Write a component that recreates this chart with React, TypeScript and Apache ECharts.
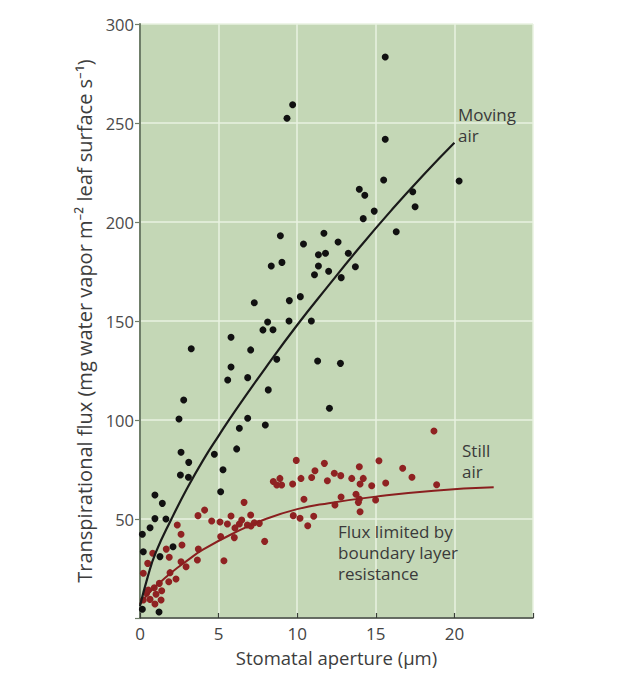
import React, { useEffect, useRef } from "react";
import * as echarts from "echarts";

// Stomatal aperture (µm), transpirational flux values
const movingAirPoints: number[][] = [
  [9.71, 259.2], [9.35, 252.4], [15.6, 283.3], [15.6, 241.8], [15.5, 221.2], [20.3, 220.7],
  [13.95, 216.5], [14.3, 213.5], [17.35, 215.3], [17.5, 207.7], [14.9, 205.5], [14.2, 201.7],
  [16.3, 195.1], [11.7, 194.3], [10.4, 188.9], [12.6, 189.9], [11.35, 183.5], [11.8, 184.2],
  [13.25, 184.2], [11.35, 177.8], [13.7, 177.4], [11.1, 173.4], [12.0, 175.1], [12.8, 171.9],
  [10.2, 162.3], [10.9, 150], [11.3, 129.8], [12.75, 128.6], [12.05, 105.9],
  [8.93, 193.1], [8.35, 177.8], [9.03, 179.6], [7.27, 159.2], [9.5, 160.3], [9.48, 150],
  [8.12, 149.5], [7.82, 145.5], [8.46, 145.6], [5.79, 141.8], [3.26, 136], [7.04, 135.4],
  [8.7, 130.7], [5.79, 126.8], [5.58, 120.2], [6.85, 121.4], [8.16, 115.2], [2.78, 110.1],
  [2.48, 100.5], [6.85, 100.9], [6.32, 95.8], [7.97, 97.5], [6.15, 85.4], [2.61, 83.7],
  [4.73, 82.7], [3.1, 78.6], [5.28, 74.9], [2.57, 72.2], [3.08, 71.1], [5.13, 63.8],
  [0.95, 62.1], [1.42, 57.9], [0.95, 50.2], [1.65, 50], [0.64, 45.6], [0.15, 42.3],
  [2.1, 36], [0.21, 33.5], [1.27, 31], [0.15, 4.4], [1.21, 3],
];

const stillAirPoints: number[][] = [
  [9.94, 79.6], [11.13, 74.4], [10.24, 70.5], [10.92, 71.0], [8.9, 70.5], [8.48, 68.9],
  [8.7, 67.2], [9.01, 67.2], [9.71, 67.7], [10.43, 60], [6.62, 58.4], [4.11, 54.5],
  [3.69, 51.7], [7.04, 52], [5.79, 51.5], [4.56, 49], [5.09, 48.5], [5.56, 47.5],
  [6.04, 45.5], [6.47, 49.5], [6.32, 47.5], [6.83, 47], [7.27, 48.1], [7.59, 47.8],
  [7.06, 46.5], [9.75, 51.7], [10.18, 50.4], [11.05, 51.4], [10.67, 46.6], [2.37, 47],
  [2.61, 42.3], [2.67, 36.9], [5.13, 41.1], [6.0, 40.6], [7.93, 38.7], [3.71, 34.8],
  [0.81, 32.7], [1.67, 34.8], [1.86, 30.7], [2.61, 28.4], [2.93, 25.9], [3.65, 29.3],
  [5.34, 28.9], [0.49, 27.6], [0.21, 22.6], [1.91, 22.9], [1.83, 18.3], [2.29, 19.7],
  [1.23, 17.5], [0.91, 15.3], [1.38, 13.8], [0.42, 12.5], [1.02, 12], [0.64, 9.4],
  [1.34, 9.1], [0.95, 7.1], [0.21, 9.1], [0.53, 14.1],
  [18.7, 94.4], [11.73, 78.1], [15.2, 79.4], [13.95, 76.4], [12.36, 73.1], [12.77, 71.9],
  [11.92, 69.3], [13.47, 70.5], [14.2, 70.5], [14.0, 67.7], [14.74, 66.8], [15.63, 68.2],
  [16.71, 75.6], [17.3, 71.1], [18.87, 67.3], [12.79, 61.1], [12.4, 57.1], [13.74, 62.5],
  [13.95, 60.1], [13.89, 58.4], [14.99, 59.6], [14.0, 53.7],
];

const movingAirCurve: number[][] = [
  [0, 6], [0.5, 21], [1, 33], [2, 50], [3, 65.5], [4, 79.5], [5, 92], [6, 104], [8, 126.5],
  [10, 148], [12, 168], [14, 187.5], [16, 206], [18, 223.5], [20, 240],
];

const stillAirCurve: number[][] = [
  [0, 7], [0.5, 12], [1, 16], [2, 23], [3, 29], [4, 34.5], [6, 43], [8, 50], [10, 55],
  [12, 58], [15, 61.3], [18.7, 64.3], [22.5, 66],
];

const xTicks = [0, 5, 10, 15, 20, 25];
const yTicks = [0, 50, 100, 150, 200, 250, 300];

const FONT = "'Open Sans', 'Noto Sans', sans-serif";

export default function App() {
  const ref = useRef<HTMLDivElement>(null);
  useEffect(() => {
    if (!ref.current) return;
    const chart = echarts.init(ref.current, undefined, { renderer: "svg" });
    chart.setOption({
      animation: false,
      textStyle: { fontFamily: FONT },
      grid: {
        left: 140,
        top: 24,
        width: 393,
        height: 594,
        show: true,
        backgroundColor: "#c4d7b6",
        borderWidth: 0,
      },
      xAxis: {
        type: "value",
        min: xTicks[0],
        max: xTicks[xTicks.length - 1],
        interval: 5,
        name: "Stomatal aperture (µm)",
        nameLocation: "middle",
        nameGap: 30,
        nameTextStyle: { fontSize: 18.5, color: "#3d3d3d", fontFamily: FONT },
        axisLine: { show: true, onZero: false, lineStyle: { color: "#3a3f38", width: 1.5 } },
        axisTick: { show: true, inside: true, length: 5, lineStyle: { color: "#3a3f38", width: 1.2 } },
        axisLabel: {
          color: "#444",
          fontSize: 17,
          margin: 7,
          fontFamily: FONT,
          formatter: (v: number) => (v === 25 ? "" : String(v)),
        },
        splitLine: { show: true, lineStyle: { color: "#e9f2e1", width: 1.5 } },
      },
      yAxis: {
        type: "value",
        min: yTicks[0],
        max: yTicks[yTicks.length - 1],
        interval: 50,
        name: "Transpirational flux (mg water vapor m⁻² leaf surface s⁻¹)",
        nameLocation: "middle",
        nameRotate: 90,
        nameGap: 45,
        nameTextStyle: { fontSize: 20, color: "#3d3d3d", fontFamily: FONT },
        axisLine: { show: true, onZero: false, lineStyle: { color: "#6f7e69", width: 2 } },
        axisTick: { show: true, inside: false, length: 5, lineStyle: { color: "#6f7e69", width: 1.2 } },
        axisLabel: {
          color: "#4a4a4a",
          fontSize: 16.5,
          margin: 6,
          fontFamily: FONT,
          formatter: (v: number) => (v === 0 ? "" : String(v)),
        },
        splitLine: { show: true, lineStyle: { color: "#e9f2e1", width: 1.5 } },
      },
      series: [
        {
          type: "scatter",
          data: stillAirPoints,
          symbolSize: 7,
          itemStyle: { color: "#8f2222", opacity: 1 },
          z: 2,
        },
        {
          type: "scatter",
          data: movingAirPoints,
          symbolSize: 7,
          itemStyle: { color: "#111111", opacity: 1 },
          z: 3,
        },
        {
          type: "line",
          data: stillAirCurve,
          smooth: true,
          showSymbol: false,
          lineStyle: { color: "#8a1f1f", width: 2 },
          z: 4,
        },
        {
          type: "line",
          data: movingAirCurve,
          smooth: true,
          showSymbol: false,
          lineStyle: { color: "#1a1a1a", width: 2.2 },
          z: 5,
        },
      ],
      graphic: [
        {
          type: "text",
          left: 458,
          top: 104,
          z: 100,
          style: {
            text: "Moving\nair",
            fontSize: 17,
            lineHeight: 21,
            fill: "#3a3a3a",
            fontFamily: FONT,
          },
        },
        {
          type: "text",
          left: 462,
          top: 440,
          z: 100,
          style: {
            text: "Still\nair",
            fontSize: 17,
            lineHeight: 21,
            fill: "#3a3a3a",
            fontFamily: FONT,
          },
        },
        {
          type: "text",
          left: 338,
          top: 521,
          z: 100,
          style: {
            text: "Flux limited by\nboundary layer\nresistance",
            fontSize: 17,
            lineHeight: 21,
            fill: "#3a3a3a",
            fontFamily: FONT,
          },
        },
      ],
    });
    return () => chart.dispose();
  }, []);
  return (
    <div
      ref={ref}
      style={{ position: "fixed", left: 0, top: 0, width: 624, height: 678, background: "#fff" }}
    />
  );
}
